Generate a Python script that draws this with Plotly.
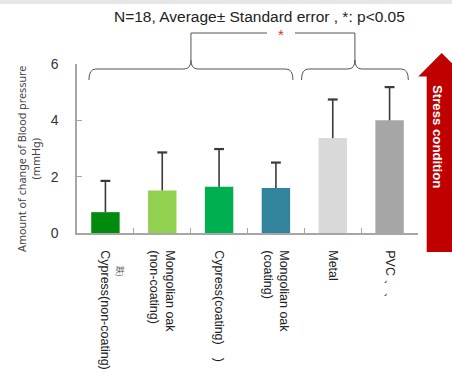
import plotly.graph_objects as go

# Blood-pressure change by material (mmHg), mean and standard error
categories = [
    "Cypress(non-coating)",
    "Mongolian oak<br>(non-coating)",
    "Cypress(coating)　)",
    "Mongolian oak<br>(coating)",
    "Metal",
    "PVC 、、",
]
means = [0.74, 1.51, 1.64, 1.60, 3.37, 4.00]
std_err = [1.11, 1.35, 1.34, 0.90, 1.37, 1.18]
bar_colors = ["#008A0E", "#92D050", "#00B050", "#31849B", "#D9D9D9", "#A6A6A6"]

title_text = "N=18, Average± Standard error , *: p<0.05"
y_title = "Amount of change of Blood pressure<br>(mmHg)"
y_ticks = [0, 2, 4, 6]

# Groups compared by the significance bracket (category index spans)
brace_spans = [(-0.29, 3.30), (3.45, 5.33)]

W, H = 452, 373
ML, MR, MT, MB = 77, 34, 64, 140
PW, PH = W - ML - MR, H - MT - MB
n = len(categories)


def px_x(px):
    return (px - ML) / PW


def px_y(py):
    return (MT + PH - py) / PH


def cat_px(i):
    return ML + (i + 0.5) * PW / n


tops = [m + e for m, e in zip(means, std_err)]

fig = go.Figure()
fig.add_trace(go.Bar(
    x=categories, y=means, width=0.5,
    marker=dict(color=bar_colors, line=dict(width=0)),
    error_y=dict(type="data", symmetric=False, array=std_err,
                 arrayminus=[0] * n, width=0, thickness=1.6, color="#3a3a3a"),
    showlegend=False, hoverinfo="skip",
))
# caps of the error bars
fig.add_trace(go.Scatter(
    x=categories, y=tops, mode="markers",
    marker=dict(symbol="line-ew", size=7, color="#3a3a3a",
                line=dict(width=2.2, color="#3a3a3a")),
    showlegend=False, hoverinfo="skip", cliponaxis=False,
))

shapes = []


def brace_path(x0, x1, y_end, y_line, y_tip, r=7):
    xm = (x0 + x1) / 2
    pts = [
        f"M{px_x(x0)},{px_y(y_end)}",
        f"Q{px_x(x0)},{px_y(y_line)} {px_x(x0 + r)},{px_y(y_line)}",
        f"L{px_x(xm - r)},{px_y(y_line)}",
        f"Q{px_x(xm)},{px_y(y_line)} {px_x(xm)},{px_y(y_tip)}",
        f"Q{px_x(xm)},{px_y(y_line)} {px_x(xm + r)},{px_y(y_line)}",
        f"L{px_x(x1 - r)},{px_y(y_line)}",
        f"Q{px_x(x1)},{px_y(y_line)} {px_x(x1)},{px_y(y_end)}",
    ]
    return " ".join(pts)


line_style = dict(color="#555555", width=1)
tips = []
for a, b in brace_spans:
    x0, x1 = cat_px(a), cat_px(b)
    tips.append((x0 + x1) / 2)
    shapes.append(dict(type="path", xref="paper", yref="paper",
                       path=brace_path(x0, x1, 80, 69, 60), line=line_style))

# significance bracket joining the two brace tips, broken around the star
star_x = 281
bracket_y = 33
shapes.append(dict(type="path", xref="paper", yref="paper", line=line_style,
                   path=f"M{px_x(tips[0])},{px_y(60)} L{px_x(tips[0])},{px_y(bracket_y)} "
                        f"L{px_x(star_x - 14)},{px_y(bracket_y)}"))
shapes.append(dict(type="path", xref="paper", yref="paper", line=line_style,
                   path=f"M{px_x(star_x + 14)},{px_y(bracket_y)} L{px_x(tips[1])},{px_y(bracket_y)} "
                        f"L{px_x(tips[1])},{px_y(61)}"))

# red "Stress condition" arrow at the right edge
ax_c, shaft_hw, head_hw = 441.7, 15, 23.4
tip_y, head_base_y, bottom_y = 53, 76.5, 252
arrow = (
    f"M{px_x(ax_c)},{px_y(tip_y)} "
    f"L{px_x(ax_c + head_hw)},{px_y(head_base_y)} "
    f"L{px_x(ax_c + shaft_hw)},{px_y(head_base_y)} "
    f"L{px_x(ax_c + shaft_hw)},{px_y(bottom_y)} "
    f"L{px_x(ax_c - shaft_hw)},{px_y(bottom_y)} "
    f"L{px_x(ax_c - shaft_hw)},{px_y(head_base_y)} "
    f"L{px_x(ax_c - head_hw)},{px_y(head_base_y)} Z"
)
shapes.append(dict(type="path", xref="paper", yref="paper", path=arrow,
                   fillcolor="#C00000", line=dict(width=0)))

# faint shadow band along the top edge
shapes.append(dict(type="rect", xref="paper", yref="paper",
                   x0=px_x(0), x1=px_x(W), y0=px_y(0), y1=px_y(4),
                   fillcolor="#e6e6e6", line=dict(width=0), layer="below"))


def note(text, x, y, size, color, family="Liberation Sans", angle=0):
    return dict(text=text, xref="paper", yref="paper", x=px_x(x), y=px_y(y),
                xanchor="center", yanchor="middle", showarrow=False,
                textangle=angle, align="center",
                font=dict(family=family, size=size, color=color))


annotations = [
    note(title_text, 259, 17, 15.5, "#222222"),
    note("*", star_x, 34, 15, "#E03030"),
    note(y_title, 28, 159, 10.8, "#444444", family="Noto Sans", angle=-90),
    note("<b>Stress condition</b>", 438, 136, 13.2, "white", angle=90),
    note("跌)", 121, 271, 8, "#555555", family="Noto Sans CJK JP", angle=90),
]

fig.update_layout(
    width=W, height=H,
    margin=dict(l=ML, r=MR, t=MT, b=MB, pad=0, autoexpand=False),
    paper_bgcolor="white", plot_bgcolor="white",
    shapes=shapes, annotations=annotations,
    bargap=0.5,
    font=dict(family="Liberation Sans"),
    xaxis=dict(
        type="category", showline=True, linecolor="#a6a6a6", linewidth=1.5,
        ticks="inside", tickson="boundaries", ticklen=5, tickcolor="#a6a6a6",
        tickangle=90, tickfont=dict(family="Liberation Sans", size=12.5, color="#222222"),
        ticklabelstandoff=13, showgrid=False, zeroline=False, automargin=False,
    ),
    yaxis=dict(
        range=[0, 6], tickvals=y_ticks, showline=True, linecolor="#a6a6a6",
        linewidth=1.5, ticks="inside", ticklen=5, tickcolor="#a6a6a6",
        tickfont=dict(family="Liberation Sans", size=14, color="#333333"),
        ticklabelstandoff=14, showgrid=False, zeroline=False, automargin=False,
    ),
)

fig.write_html("out.html")
